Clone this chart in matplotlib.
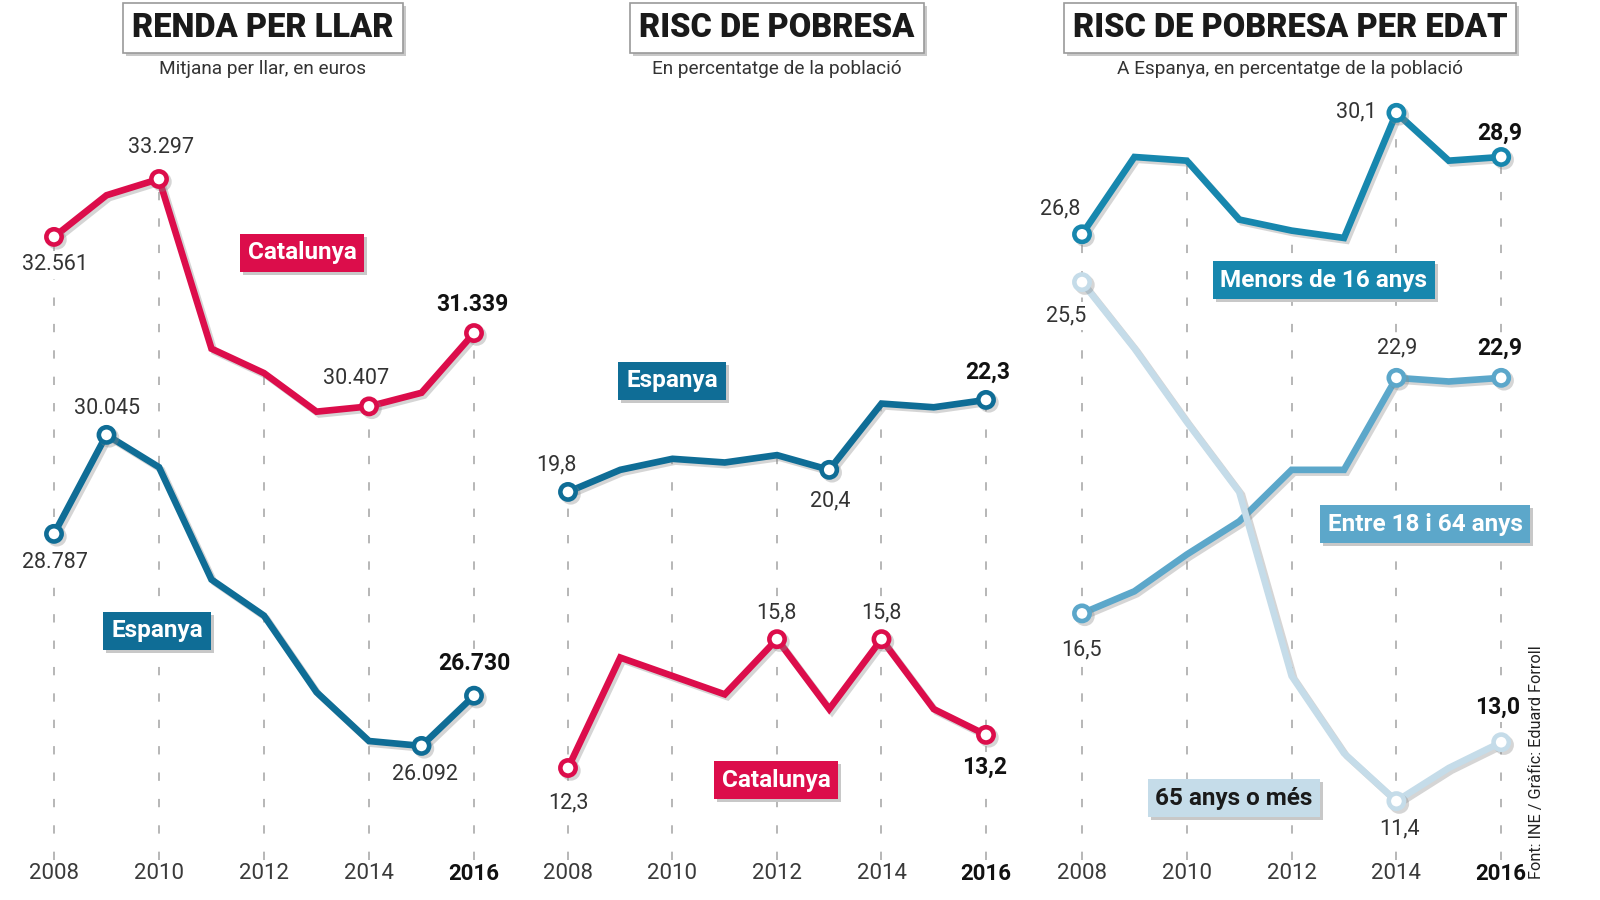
import matplotlib
matplotlib.use("Agg")
import matplotlib.pyplot as plt
import matplotlib.patheffects as pe

plt.rcParams['font.family'] = ['Roboto', 'DejaVu Sans']
plt.rcParams['lines.scale_dashes'] = False

years = [2008, 2009, 2010, 2011, 2012, 2013, 2014, 2015, 2016]
tick_years = [2008, 2010, 2012, 2014, 2016]

# Renda per llar (euros)
renda_cat = [32561, 33090, 33297, 31140, 30830, 30340, 30407, 30580, 31339]
renda_esp = [28787, 30045, 29634, 28206, 27747, 26775, 26154, 26092, 26730]

# Risc de pobresa (%)
risc_esp = [19.8, 20.4, 20.7, 20.6, 20.8, 20.4, 22.2, 22.1, 22.3]
risc_cat = [12.3, 15.3, 14.8, 14.3, 15.8, 13.9, 15.8, 13.9, 13.2]

# Risc de pobresa per edat (%)
edat_menors = [26.8, 28.9, 28.8, 27.2, 26.9, 26.7, 30.1, 28.8, 28.9]
edat_entre = [16.5, 17.1, 18.1, 19.0, 20.4, 20.4, 22.9, 22.8, 22.9]
edat_65 = [25.5, 23.7, 21.7, 19.8, 14.8, 12.7, 11.4, 12.3, 13.0]

RED = '#dc0d4b'
BLUE = '#0f6d96'
C_MENORS = '#1787ae'
C_ENTRE = '#5ca7ca'
C_65 = '#c5dce9'
TXT = '#333333'

W, H = 1600, 900
fig = plt.figure(figsize=(16, 9), dpi=100)
fig.patch.set_facecolor('white')


def fx(px):
    return px / W


def fy(py):
    return 1 - py / H


def make_axes(x2008, step, ylim):
    # axes spans 2007..2017 horizontally, pixel rows 90..860 vertically
    left = x2008 - step
    ax = fig.add_axes([fx(left), fy(860), fx(step * 10), (860 - 90) / H])
    ax.set_xlim(2007, 2017)
    ax.set_ylim(*ylim)
    for s in ax.spines.values():
        s.set_visible(False)
    ax.set_yticks([])
    ax.set_xticks(tick_years)
    ax.set_xticklabels([str(y) for y in tick_years])
    ax.tick_params(axis='x', length=0, pad=2, labelsize=16, labelcolor='#3a3a3a')
    lab = ax.get_xticklabels()[-1]
    lab.set_fontweight('bold')
    lab.set_color('#111111')
    ax.patch.set_alpha(0)
    return ax


def guides(ax, series_list):
    lo = ax.get_ylim()[0]
    for y in tick_years:
        i = years.index(y)
        top = max(s[i] for s in series_list)
        ax.plot([y, y], [lo, top], color='#aaaaaa', lw=1.2,
                linestyle=(0, (6, 13)), zorder=1)


def series(ax, vals, color, marks):
    shadow = [pe.SimpleLineShadow(offset=(2, -2), shadow_color='#888888', alpha=0.35),
              pe.Normal()]
    ax.plot(years, vals, color=color, lw=4.8, solid_joinstyle='miter',
            solid_capstyle='butt', zorder=3, path_effects=shadow)
    idx = [years.index(m) for m in marks]
    ax.plot([years[i] for i in idx], [vals[i] for i in idx], linestyle='none',
            marker='o', ms=11, mew=3.3, mec=color, mfc='white', zorder=4,
            path_effects=shadow)


def vlabel(ax, year, val, text, dx, dy, bold=False):
    # white box hides the dashed guide behind the number, lines stay on top
    ax.annotate(text, xy=(year, val), xytext=(dx, dy), textcoords='offset pixels',
                ha='center', va='center',
                fontsize=16.5 if bold else 15.5,
                fontweight='bold' if bold else 'normal',
                color='#111111' if bold else TXT, zorder=2,
                bbox=dict(boxstyle='square,pad=0.15', fc='white', ec='none'))


def boxed(cx, cy, text, size, weight, fg, bg, ec='none', lw=0, pad=0.3, sh=3):
    # shadow box first, then the real box on top
    fig.text(fx(cx + sh), fy(cy + sh), text, ha='center', va='center',
             fontsize=size, fontweight=weight, color=(0, 0, 0, 0),
             bbox=dict(boxstyle='square,pad=%s' % pad, fc='#c8c8c8', ec='none'))
    fig.text(fx(cx), fy(cy), text, ha='center', va='center', fontsize=size,
             fontweight=weight, color=fg,
             bbox=dict(boxstyle='square,pad=%s' % pad, fc=bg, ec=ec, lw=lw))


def tag(cx, cy, text, bg, fg='white'):
    boxed(cx, cy, text, 17.5, 'bold', fg, bg, pad=0.32)


def title(cx, text, sub):
    boxed(cx, 28, text, 23.5, 'heavy', '#1a1a1a', 'white', ec='#9a9a9a', lw=1.2,
          pad=0.28)
    fig.text(fx(cx), fy(69), sub, ha='center', va='center', fontsize=13.7,
             color='#333333')


# ---- Panel 1: Renda per llar
ax1 = make_axes(54, 52.5, (24642, 34428))
guides(ax1, [renda_cat, renda_esp])
series(ax1, renda_cat, RED, [2008, 2010, 2014, 2016])
series(ax1, renda_esp, BLUE, [2008, 2009, 2015, 2016])
vlabel(ax1, 2008, renda_cat[0], '32.561', 1, -28)
vlabel(ax1, 2010, renda_cat[2], '33.297', 2, 31)
vlabel(ax1, 2014, renda_cat[6], '30.407', -13, 28)
vlabel(ax1, 2016, renda_cat[8], '31.339', -2, 29, bold=True)
vlabel(ax1, 2009, renda_esp[1], '30.045', 1, 26)
vlabel(ax1, 2008, renda_esp[0], '28.787', 1, -29)
vlabel(ax1, 2015, renda_esp[7], '26.092', 3, -29)
vlabel(ax1, 2016, renda_esp[8], '26.730', 0, 32, bold=True)
tag(302, 253, 'Catalunya', RED)
tag(157, 631, 'Espanya', BLUE)
title(263, 'RENDA PER LLAR', 'Mitjana per llar, en euros')

# ---- Panel 2: Risc de pobresa
ylim_pct = (9.8, 30.72)
ax2 = make_axes(568, 52.25, ylim_pct)
guides(ax2, [risc_esp, risc_cat])
series(ax2, risc_esp, BLUE, [2008, 2013, 2016])
series(ax2, risc_cat, RED, [2008, 2012, 2014, 2016])
vlabel(ax2, 2008, risc_esp[0], '19,8', -12, 27)
vlabel(ax2, 2013, risc_esp[5], '20,4', 1, -31)
vlabel(ax2, 2016, risc_esp[8], '22,3', 2, 28, bold=True)
vlabel(ax2, 2012, risc_cat[4], '15,8', -1, 26)
vlabel(ax2, 2014, risc_cat[6], '15,8', 0, 26)
vlabel(ax2, 2008, risc_cat[0], '12,3', 0, -35)
vlabel(ax2, 2016, risc_cat[8], '13,2', -1, -32, bold=True)
tag(672, 381, 'Espanya', BLUE)
tag(776, 780, 'Catalunya', RED)
title(777, 'RISC DE POBRESA', 'En percentatge de la població')

# ---- Panel 3: Risc de pobresa per edat
ax3 = make_axes(1082, 52.4, ylim_pct)
guides(ax3, [edat_menors, edat_entre, edat_65])
series(ax3, edat_entre, C_ENTRE, [2008, 2014, 2016])
series(ax3, edat_65, C_65, [2008, 2014, 2016])
series(ax3, edat_menors, C_MENORS, [2008, 2014, 2016])
vlabel(ax3, 2008, edat_menors[0], '26,8', -22, 25)
vlabel(ax3, 2014, edat_menors[6], '30,1', -40, 1)
vlabel(ax3, 2016, edat_menors[8], '28,9', -1, 24, bold=True)
vlabel(ax3, 2008, edat_65[0], '25,5', -16, -34)
vlabel(ax3, 2014, edat_65[6], '11,4', 3, -28)
vlabel(ax3, 2016, edat_65[8], '13,0', -4, 35, bold=True)
vlabel(ax3, 2008, edat_entre[0], '16,5', -1, -37)
vlabel(ax3, 2014, edat_entre[6], '22,9', 1, 30)
vlabel(ax3, 2016, edat_entre[8], '22,9', -1, 30, bold=True)
tag(1324, 280, 'Menors de 16 anys', C_MENORS)
tag(1425, 524, 'Entre 18 i 64 anys', C_ENTRE)
tag(1234, 798, '65 anys o més', C_65, fg='#1a1a1a')
title(1290, 'RISC DE POBRESA PER EDAT', 'A Espanya, en percentatge de la població')

fig.text(fx(1537), fy(762), 'Font: INE / Gràfic: Eduard Forroll', rotation=90,
         ha='center', va='center', fontsize=11.7, color='#222222')

fig.savefig('out.png', dpi=100, facecolor='white')
